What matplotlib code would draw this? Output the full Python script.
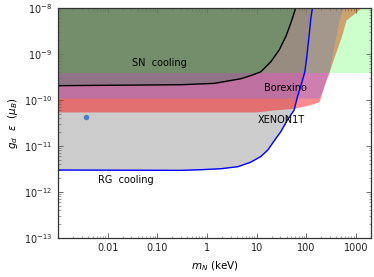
import matplotlib
matplotlib.use('Agg')
import matplotlib.pyplot as plt
from matplotlib.ticker import FixedLocator, FixedFormatter, LogLocator, NullFormatter

# ── data (m_N in keV, coupling in mu_B) ─────────────────────────────
x_lim = (1e-3, 2e3)
y_lim = (1e-13, 1e-8)

# RG cooling (blue line, grey region above)
rg_x = [1e-3, 0.30, 0.76, 1.9, 4.2, 7.6, 12.1, 16.8, 22, 30.6, 41.7, 56.6,
        66, 74.6, 83.5, 93, 102, 113, 122, 132]
rg_y = [3.0e-12, 2.95e-12, 3.05e-12, 3.2e-12, 3.55e-12, 4.45e-12, 5.9e-12,
        8.2e-12, 1.25e-11, 2.05e-11, 3.7e-11, 6.0e-11, 1.17e-10, 1.8e-10,
        2.7e-10, 4.1e-10, 8.7e-10, 2.4e-9, 5.5e-9, 1e-8]

# XENON1T (red)
xe_x = [1e-3, 10, 20, 56, 108, 180, 200, 228, 287, 362, 500, 630, 1260]
xe_y = [5.5e-11, 5.5e-11, 6e-11, 6.6e-11, 7.7e-11, 9.1e-11, 1.3e-10,
        2.1e-10, 4.1e-10, 8.6e-10, 2.3e-9, 5.5e-9, 1e-8]

# Borexino (purple)
bx_x = [1e-3, 175, 212, 248, 285, 345, 455, 550]
bx_y = [1.1e-10, 1.1e-10, 1.6e-10, 2.7e-10, 4e-10, 1.2e-9, 5.5e-9, 1e-8]

# SN cooling (black line)
sn_x = [1e-3, 0.019, 0.30, 1.4, 4.8, 7.6, 12.1, 19.3, 28.3, 38.6, 48.6, 61]
sn_y = [2.05e-10, 2.1e-10, 2.15e-10, 2.3e-10, 2.9e-10, 3.4e-10, 4.1e-10,
        6.8e-10, 1.22e-9, 2.4e-9, 4.7e-9, 1e-8]

# light green band
band_x = [1e-3, 2e3]
band_lo = 3.9e-10

# benchmark point
pt_x, pt_y = 0.0037, 4.3e-11

x_ticks = [0.01, 0.1, 1, 10, 100, 1000]
x_ticklabels = ['0.01', '0.10', '1', '10', '100', '1000']
y_ticks = [1e-13, 1e-12, 1e-11, 1e-10, 1e-9, 1e-8]
y_ticklabels = [r'$10^{-13}$', r'$10^{-12}$', r'$10^{-11}$',
                r'$10^{-10}$', r'$10^{-9}$', r'$10^{-8}$']

# ── figure ─────────────────────────────────────────────────────────
fig = plt.figure(figsize=(3.74, 2.77), dpi=100)
ax = fig.add_axes([0.155, 0.141, 0.837, 0.830])
ax.set_xscale('log')
ax.set_yscale('log')

top = y_lim[1]
ax.fill_between(rg_x, rg_y, top, color='#cccccc', lw=0, zorder=1)
ax.fill_between(xe_x, xe_y, top, color='red', alpha=0.45, lw=0, zorder=2)
ax.fill_between(bx_x, bx_y, top, color='mediumpurple', alpha=0.45, lw=0, zorder=3)
ax.fill_between(sn_x, sn_y, top, color='#3d7a5a', alpha=0.35, lw=0, zorder=4)
ax.fill_between(band_x, band_lo, top, color='#00ff00', alpha=0.2, lw=0, zorder=5)

ax.plot(sn_x, sn_y, color='black', lw=1.0, zorder=6)
ax.plot(rg_x, rg_y, color='blue', lw=1.0, zorder=6)
ax.plot(pt_x, pt_y, 'o', color='#4c7ec4', ms=4, mec='none', zorder=7)

fs = 7
ax.text(0.031, 6.4e-10, 'SN  cooling', fontsize=fs, va='center', zorder=8)
ax.text(14, 1.8e-10, 'Borexino', fontsize=fs, va='center', zorder=8)
ax.text(10.5, 3.7e-11, 'XENON1T', fontsize=fs, va='center', zorder=8)
ax.text(0.0065, 1.8e-12, 'RG  cooling', fontsize=fs, va='center', zorder=8)

ax.set_xlim(*x_lim)
ax.set_ylim(*y_lim)
ax.xaxis.set_major_locator(FixedLocator(x_ticks))
ax.xaxis.set_major_formatter(FixedFormatter(x_ticklabels))
ax.xaxis.set_minor_locator(LogLocator(base=10, subs=range(2, 10)))
ax.xaxis.set_minor_formatter(NullFormatter())
ax.yaxis.set_major_locator(FixedLocator(y_ticks))
ax.yaxis.set_major_formatter(FixedFormatter(y_ticklabels))
ax.yaxis.set_minor_locator(LogLocator(base=10, subs=range(2, 10)))
ax.yaxis.set_minor_formatter(NullFormatter())

ax.tick_params(which='both', direction='in', top=True, right=True,
               color='#555555', labelsize=fs, labelcolor='#222222')
ax.tick_params(which='major', length=3.5, width=0.6, pad=4)
ax.tick_params(which='minor', length=1.8, width=0.4)
for sp in ax.spines.values():
    sp.set_color('#333333')
    sp.set_linewidth(0.9)
    sp.set_zorder(10)

ax.set_xlabel(r'$m_N$ (keV)', fontsize=fs + 0.5, labelpad=4)
ax.set_ylabel(r'$g_d\ \ \epsilon\ \ (\mu_B)$', fontsize=fs + 0.5, labelpad=3)

fig.savefig('out.png', dpi=100, facecolor='white')
